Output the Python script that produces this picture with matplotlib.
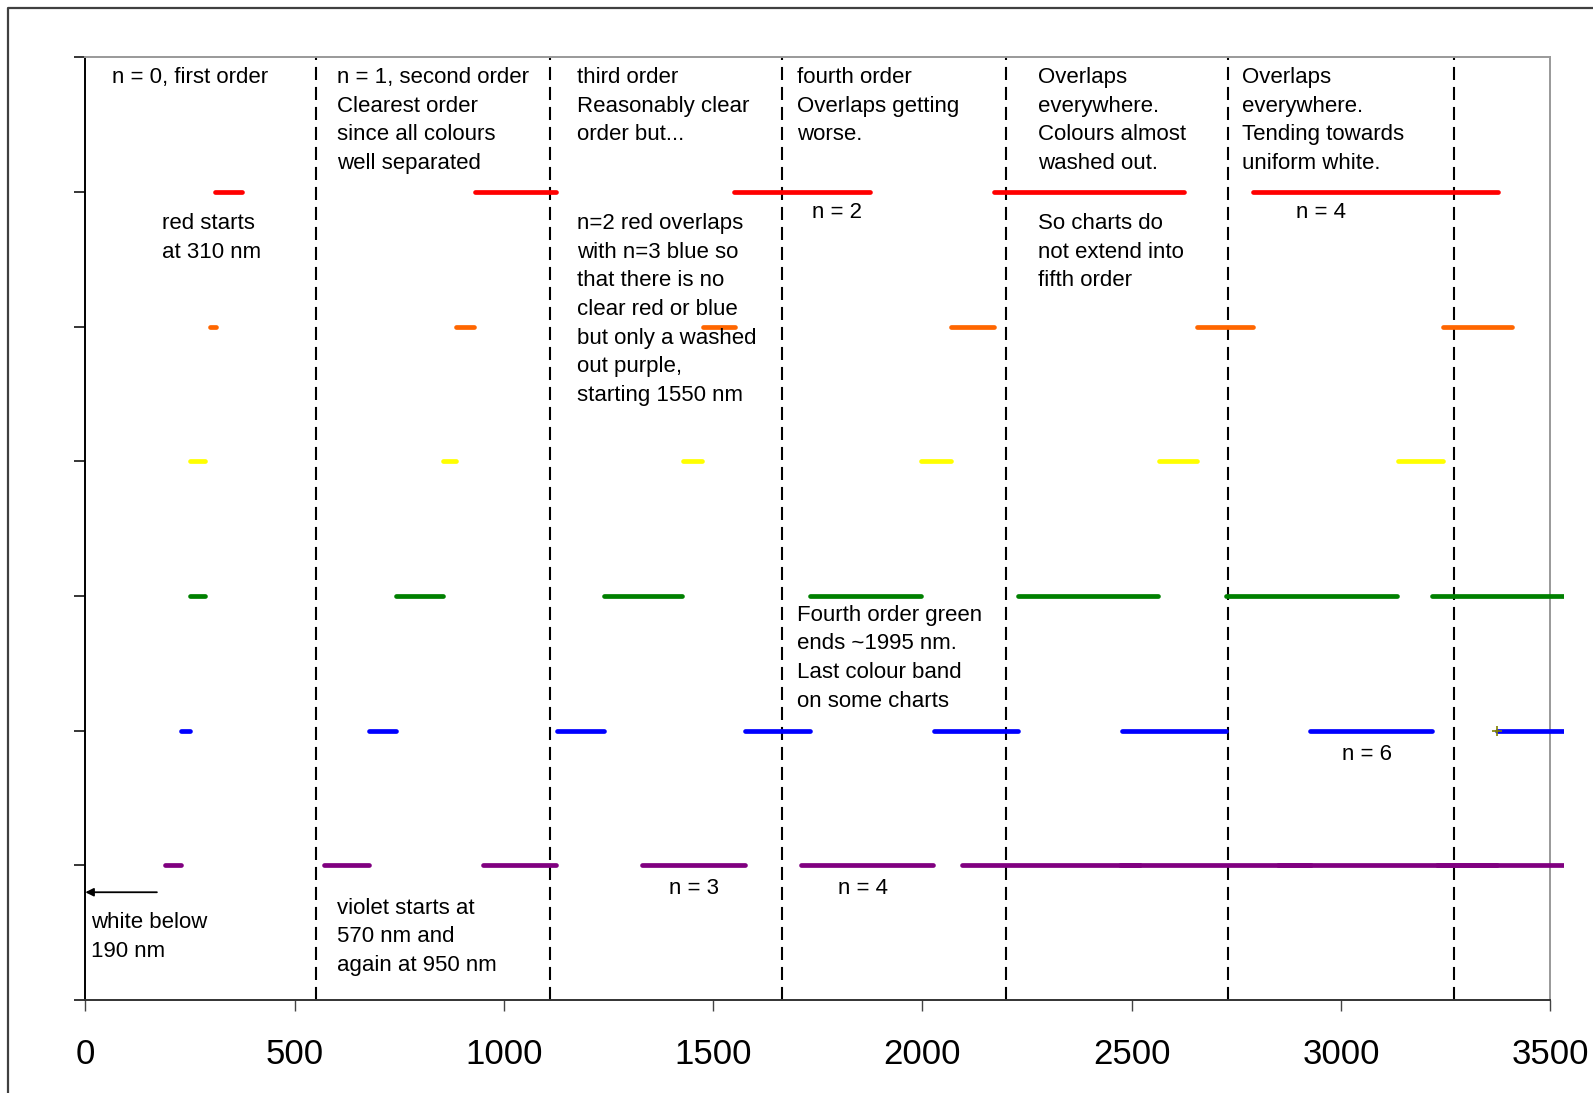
import matplotlib
matplotlib.use("Agg")
import matplotlib.pyplot as plt
from matplotlib.lines import Line2D
from matplotlib.patches import Rectangle

plt.rcParams["font.family"] = ["Liberation Sans", "DejaVu Sans"]
plt.rcParams["lines.scale_dashes"] = False

# ── data: colour bands (start/end in nm), one row per colour ──────────────
red_start    = [310, 930, 1550, 2170, 2790]
red_end      = [375, 1125, 1875, 2625, 3375]
orange_start = [297, 885, 1475, 2068, 2656, 3244]
orange_end   = [312, 929, 1553, 2171, 2790, 3409]
yellow_start = [250, 855, 1427, 1996, 2564, 3135]
yellow_end   = [285, 885, 1474, 2067, 2655, 3243]
green_start  = [250, 743, 1239, 1731, 2228, 2725, 3218]
green_end    = [285, 855, 1426, 1996, 2563, 3134, 3540]
blue_start   = [228, 677, 1126, 1575, 2027, 2477, 2925, 3372]
blue_end     = [249, 742, 1238, 1731, 2228, 2725, 3217, 3540]
violet_start = [190, 570, 950, 1330, 1710, 2094, 2472, 2850, 3230]
violet_end   = [228, 678, 1125, 1576, 2026, 2520, 2927, 3373, 3540]

# order boundaries (nm)
order_bounds = [550, 1110, 1665, 2200, 2730, 3270]
x_ticks = [0, 500, 1000, 1500, 2000, 2500, 3000, 3500]

rows = [
    (6, "#FF0000", red_start, red_end),
    (5, "#FF6600", orange_start, orange_end),
    (4, "#FFFF00", yellow_start, yellow_end),
    (3, "#008000", green_start, green_end),
    (2, "#0000FF", blue_start, blue_end),
    (1, "#800080", violet_start, violet_end),
]

# (x, first-line baseline y, text)
notes = [
    (63,   6.807, "n = 0, first order"),
    (602,  6.807, "n = 1, second order\nClearest order\nsince all colours\nwell separated"),
    (1174, 6.807, "third order\nReasonably clear\norder but..."),
    (1700, 6.807, "fourth order\nOverlaps getting\nworse."),
    (2276, 6.807, "Overlaps\neverywhere.\nColours almost\nwashed out."),
    (2764, 6.807, "Overlaps\neverywhere.\nTending towards\nuniform white."),
    (184,  5.723, "red starts\nat 310 nm"),
    (1174, 5.723, "n=2 red overlaps\nwith n=3 blue so\nthat there is no\nclear red or blue\n"
                  "but only a washed\nout purple,\nstarting 1550 nm"),
    (1736, 5.807, "n = 2"),
    (2276, 5.723, "So charts do\nnot extend into\nfifth order"),
    (2892, 5.807, "n = 4"),
    (1700, 2.814, "Fourth order green\nends ~1995 nm.\nLast colour band\non some charts"),
    (3002, 1.777, "n = 6"),
    (14,   0.532, "white below\n190 nm"),
    (602,  0.639, "violet starts at\n570 nm and\nagain at 950 nm"),
    (1394, 0.787, "n = 3"),
    (1798, 0.787, "n = 4"),
]

fig = plt.figure(figsize=(15.93, 10.93), dpi=100)
ax = fig.add_axes([0.05355, 0.0851, 0.9197, 0.8625])
ax.set_xlim(0, 3500)
ax.set_ylim(0, 7)

# lines may run a little past the right edge, as in the original
clip = Rectangle((-100, -1), 3633, 9, transform=ax.transData)

for y, col, starts, ends in rows:
    for s, e in zip(starts, ends):
        ln, = ax.plot([s, e], [y, y], color=col, lw=3.4,
                      solid_capstyle="round", zorder=3)
        ln.set_clip_path(clip)

ax.plot([3372], [2], marker="+", color="#808000", ms=7, mew=1.2, zorder=4)

ax.vlines(order_bounds, 0, 7, colors="black", linewidth=1.5,
          linestyles=[(0, (9.4, 5))], zorder=2)

for x, y, s in notes:
    ax.text(x, y + 0.121, s, fontsize=16, ha="left", va="top",
            linespacing=1.48, zorder=5)

ax.annotate("", xy=(0, 0.8), xytext=(171, 0.8),
            arrowprops=dict(arrowstyle="-|>", color="black", lw=1.3,
                            mutation_scale=12, shrinkA=0, shrinkB=0))

ax.set_xticks(x_ticks)
ax.set_xticklabels([str(t) for t in x_ticks])
ax.set_yticks(range(0, 8))
ax.set_yticklabels([])
ax.tick_params(axis="x", direction="out", length=7.7, width=1.0,
               color="#444444", labelsize=25, pad=19.5)
ax.tick_params(axis="y", direction="out", length=8, width=1.1,
               color="black")

ax.spines["left"].set_color("black")
ax.spines["bottom"].set_color("#333333")
for side in ("top", "right"):
    ax.spines[side].set_color("#999999")
for sp in ax.spines.values():
    sp.set_linewidth(1.4)

# outer chart border (cropped on right and bottom)
x0, y0 = 8.4 / 1593, 1 - 8 / 1093
fig.add_artist(Line2D([x0, x0, 1.0], [0.0, y0, y0], transform=fig.transFigure,
                      color="#404040", lw=1.6))

fig.savefig("out.png", dpi=100)
